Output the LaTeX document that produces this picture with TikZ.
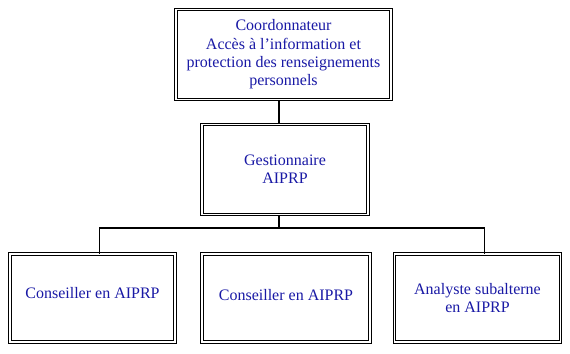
\documentclass[tikz,border=0pt]{standalone}
\usepackage{fontspec}
\setmainfont{Liberation Serif}
\usepackage{tikz}
\usetikzlibrary{positioning}

\definecolor{texte}{RGB}{25,25,165}
\tikzset{
    poste/.style={draw=black, double=white, double distance=1.3pt, line width=0.8pt,
        inner sep=2pt, align=center, text=texte, font=\fontsize{12}{13.8}\selectfont},
    lien/.style={line width=0.9pt}
}

\begin{document}
\begin{tikzpicture}[x=0.75pt, y=-0.75pt]
    \useasboundingbox (0,0) rectangle (570,353);
    % Niveau 1 - coordonnateur
    \node[poste, minimum width=161pt, minimum height=67.5pt] (coord) at (283.5,54.5)
        {Coordonnateur\\Accès à l’information et\\protection des renseignements\\personnels};
    % Niveau 2 - gestionnaire
    \node[poste, minimum width=124pt, minimum height=67.5pt] (gest) at (285,169.5)
        {Gestionnaire\\AIPRP};
    % Niveau 3 - trois postes
    \node[poste, minimum width=124pt, minimum height=65.5pt] (cons1) at (92.5,298)
        {\raisebox{8pt}{Conseiller en AIPRP}};
    \node[poste, minimum width=125.5pt, minimum height=65.5pt] (cons2) at (286,298)
        {\raisebox{4pt}{Conseiller en AIPRP}};
    \node[poste, minimum width=124.5pt, minimum height=65.5pt] (analyste) at (477.5,298)
        {Analyste subalterne\\en AIPRP};
    % Liens
    \coordinate (jonction) at (279,228);
    \draw[lien] (coord.south -| jonction) -- (gest.north -| jonction);
    \draw[lien] (gest.south -| jonction) -- (jonction);
    \draw[lien] ([xshift=5.5pt]cons1.north) |- (jonction) -| ([xshift=5pt]analyste.north);
\end{tikzpicture}
\end{document}
